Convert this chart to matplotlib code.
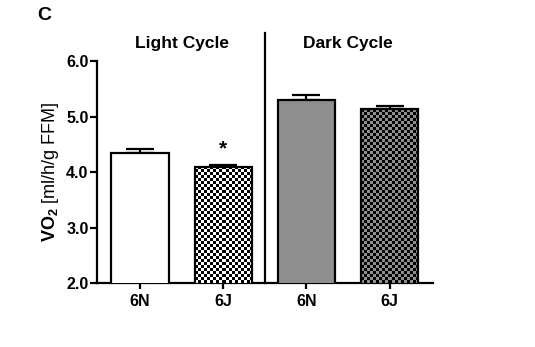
import numpy as np
import matplotlib
matplotlib.use("Agg")
from matplotlib import pyplot as plt

plt.rcParams['font.family'] = ['Liberation Sans', 'DejaVu Sans']
plt.rcParams['font.weight'] = 'bold'
plt.rcParams['mathtext.fontset'] = 'custom'
plt.rcParams['mathtext.rm'] = 'Liberation Sans'
plt.rcParams['mathtext.bf'] = 'Liberation Sans:bold'

# Data --------------------------------------
groups = ["6N", "6J", "6N", "6J"]
vo2_mean = [4.34, 4.09, 5.29, 5.13]
vo2_sem = [0.08, 0.04, 0.09, 0.06]
cycles = ["Light Cycle", "Dark Cycle"]
significant = [False, True, False, False]

# Style per bar: face colour, checker or not
faces = ["white", "white", "#8e8e8e", "#8e8e8e"]
checker = [False, True, False, True]

fig = plt.figure(figsize=(5.35, 3.47), dpi=100)
ax = fig.add_axes([0.181, 0.184, 0.628, 0.640])

x = np.arange(len(groups))
width = 0.69
bars = ax.bar(x, vo2_mean, width=width, bottom=0, color=faces,
              edgecolor="black", linewidth=1.6, zorder=3)
ax.errorbar(x, vo2_mean, yerr=[np.zeros(len(x)), vo2_sem], fmt="none",
            ecolor="black", elinewidth=1.6, capsize=10, capthick=1.6, zorder=2)

# checkerboard fill clipped to the bar
cell_x, cell_y = 0.036, 0.054
for b, chk, fc in zip(bars, checker, faces):
    if not chk:
        continue
    x0, w, h = b.get_x(), b.get_width(), b.get_height()
    y0 = 2.0
    nx = int(round(w / cell_x))
    ny = int(round((h - y0) / cell_y))
    grid = (np.add.outer(np.arange(ny), np.arange(nx)) % 2).astype(float)
    cmap = matplotlib.colors.ListedColormap([fc, "black"])
    im = ax.imshow(grid, extent=(x0, x0 + w, y0, h), cmap=cmap,
                   interpolation="nearest", aspect="auto", zorder=3.5,
                   origin="lower")
    im.set_clip_path(b)
    b.set_facecolor("none")
    b.set_zorder(4)

for xi, m, s, sig in zip(x, vo2_mean, vo2_sem, significant):
    if sig:
        ax.text(xi, m + s + 0.12, "*", ha="center", va="bottom", fontsize=15)

ax.set_xlim(-0.52, 3.52)
ax.set_ylim(2.0, 6.0)
ax.set_yticks([2.0, 3.0, 4.0, 5.0, 6.0])
ax.set_yticklabels(["2.0", "3.0", "4.0", "5.0", "6.0"])
ax.set_xticks(x)
ax.set_xticklabels(groups)
ax.tick_params(axis="both", labelsize=11.5, width=1.6, direction="out")
ax.tick_params(axis="y", length=5, pad=1)
ax.tick_params(axis="x", length=4, pad=4)
for side in ["top", "right"]:
    ax.spines[side].set_visible(False)
for side in ["left", "bottom"]:
    ax.spines[side].set_linewidth(1.6)

ax.set_ylabel(r"$\mathbf{VO_2}$ [ml/h/g FFM]", fontsize=13,
              fontweight="normal", labelpad=4)

# divider between cycles
ax.axvline(1.5, ymin=0, ymax=1.126, color="black", lw=1.6, clip_on=False)
ax.text(0.5, 1.08, cycles[0], transform=ax.get_xaxis_transform(),
        ha="center", va="center", fontsize=12.5)
ax.text(2.5, 1.08, cycles[1], transform=ax.get_xaxis_transform(),
        ha="center", va="center", fontsize=12.5)

fig.text(0.083, 0.956, "C", fontsize=14, ha="center", va="center")

fig.savefig("out.png", dpi=100)
